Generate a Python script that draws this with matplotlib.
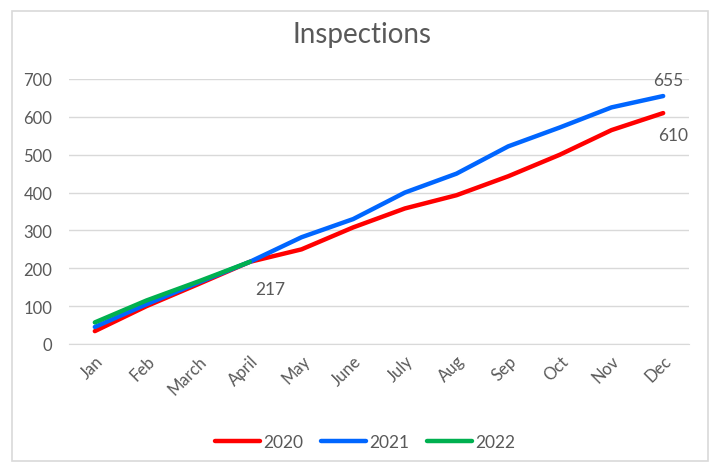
import matplotlib
matplotlib.use("Agg")
import matplotlib.pyplot as plt
from matplotlib.patches import Rectangle

months = ["Jan", "Feb", "March", "April", "May", "June", "July", "Aug", "Sep", "Oct", "Nov", "Dec"]
s2020 = [34, 100, 158, 217, 250, 308, 358, 393, 443, 500, 565, 610]
s2021 = [45, 105, 162, 217, 282, 330, 400, 450, 522, 572, 625, 655]
s2022 = [57, 115, 165, 217]
yticks = [0, 100, 200, 300, 400, 500, 600, 700]

plt.rcParams['font.family'] = ['Lato', 'DejaVu Sans']
txt = '#595959'

fig = plt.figure(figsize=(7.15, 4.64), dpi=100)
fig.patches.append(Rectangle((12/715, 2/464), 696/715, 450/464, transform=fig.transFigure,
                             fill=False, edgecolor='#d9d9d9', linewidth=1.2))
ax = fig.add_axes([69/715, 1 - 345/464, 620/715, 265/464])

x = list(range(len(months)))
ax.plot(x, s2020, color='#ff0000', lw=3.2, solid_capstyle='round', label='2020', zorder=3)
ax.plot(x, s2021, color='#0066ff', lw=3.2, solid_capstyle='round', label='2021', zorder=4)
ax.plot(x[:len(s2022)], s2022, color='#00b050', lw=3.2, solid_capstyle='round', label='2022', zorder=5)

ax.set_xlim(-0.5, 11.5)
ax.set_ylim(0, 700)
ax.set_yticks(yticks)
ax.set_xticks(x)
ax.set_xticklabels(months, rotation=45, ha='right', rotation_mode='anchor')
ax.grid(axis='y', color='#d9d9d9', lw=1)
ax.set_axisbelow(True)
for sp in ax.spines.values():
    sp.set_visible(False)
ax.spines['bottom'].set_visible(True)
ax.spines['bottom'].set_color('#d9d9d9')
ax.tick_params(length=0, colors=txt, labelsize=12)
ax.tick_params(axis='y', pad=12)
ax.tick_params(axis='x', pad=6)

ax.annotate(str(s2021[-1]), (11, s2021[-1]), xytext=(4, 6), textcoords='offset points',
            ha='center', va='bottom', color=txt, fontsize=12.5)
ax.annotate(str(s2020[-1]), (11, s2020[-1]), xytext=(7, -10), textcoords='offset points',
            ha='center', va='top', color=txt, fontsize=12.5)
ax.annotate(str(s2020[3]), (3, s2020[3]), xytext=(15, -14), textcoords='offset points',
            ha='center', va='top', color=txt, fontsize=12.5)

fig.text(362/715, 1 - 35/464, 'Inspections', ha='center', va='center', color=txt, fontsize=20)
leg = fig.legend(loc='center', bbox_to_anchor=(365/715, 1 - 443/464), ncol=3, frameon=False,
                 fontsize=12.5, handlelength=2.6, handletextpad=0.2, columnspacing=1.0)
for t in leg.get_texts():
    t.set_color(txt)

fig.savefig('out.png', dpi=100, facecolor='white')
